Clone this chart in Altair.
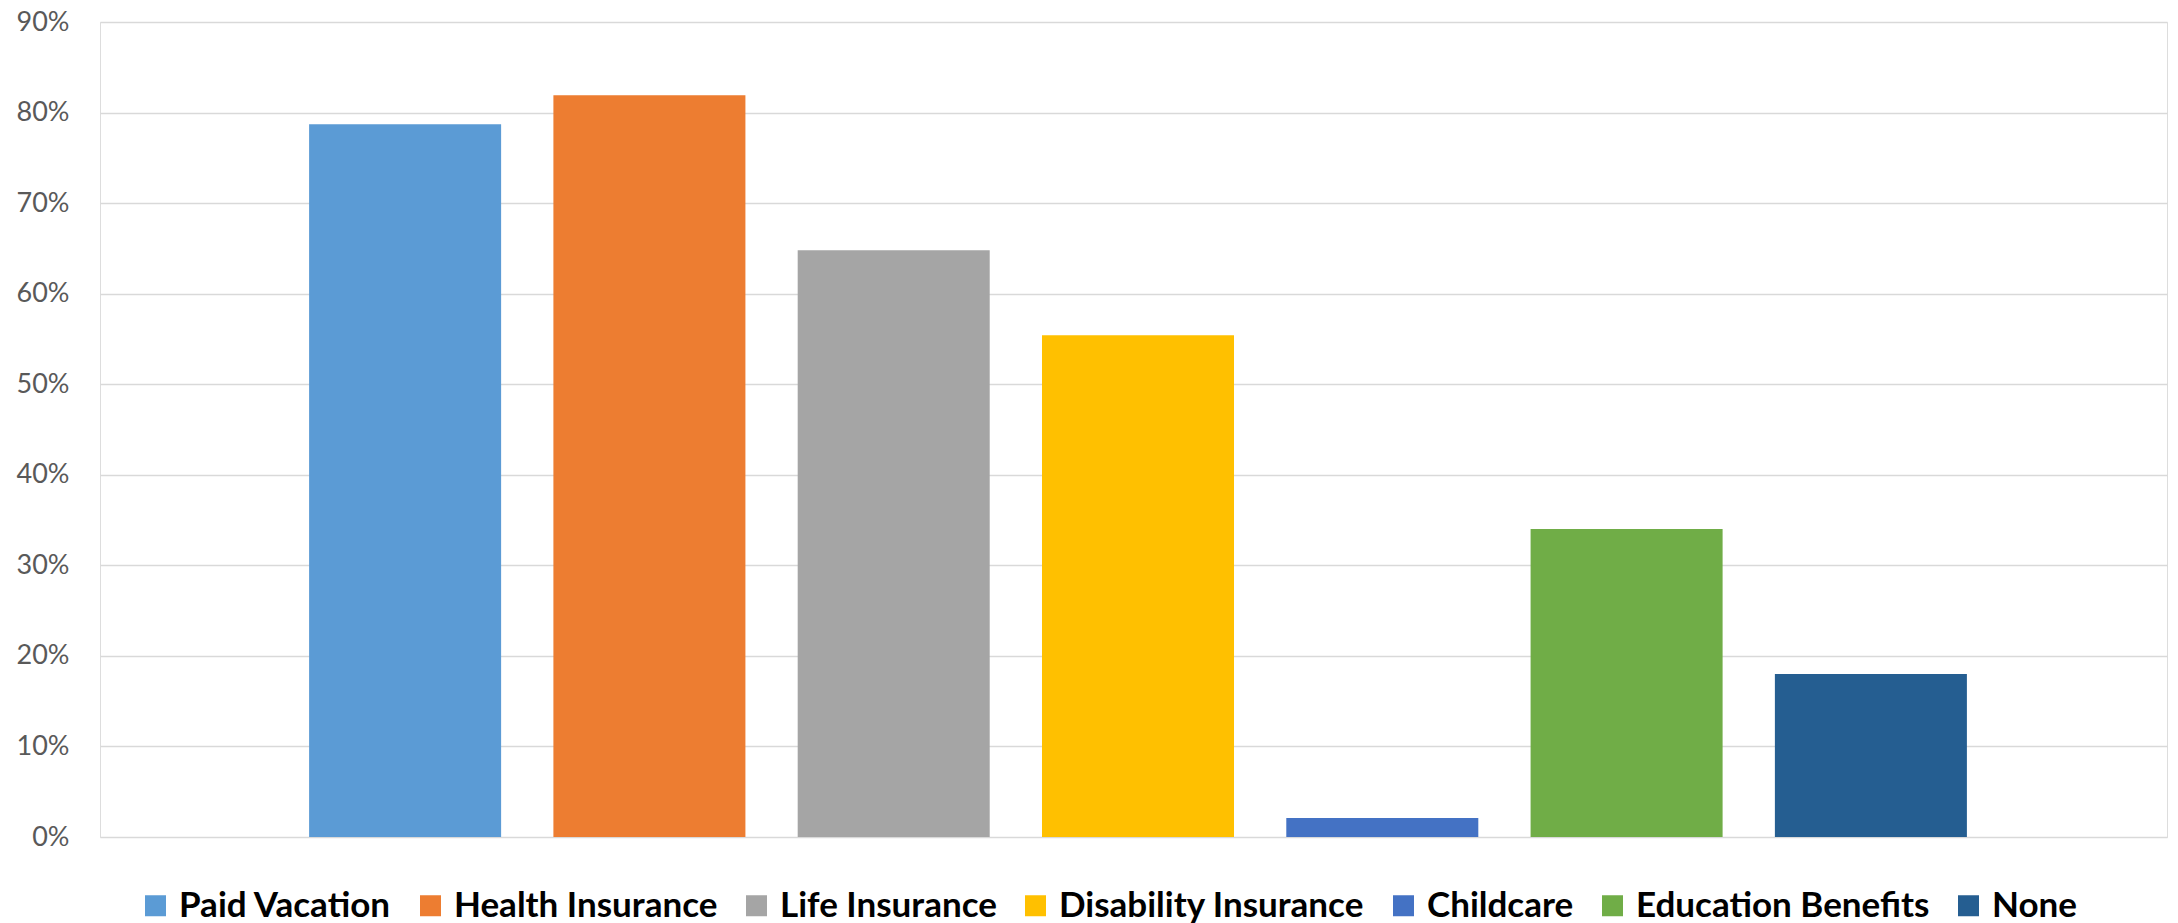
import altair as alt
import pandas as pd

# Share of respondents offered each benefit
benefits = [
    "Paid Vacation",
    "Health Insurance",
    "Life Insurance",
    "Disability Insurance",
    "Childcare",
    "Education Benefits",
    "None",
]
shares = [0.787, 0.819, 0.648, 0.554, 0.021, 0.340, 0.180]
colors = ["#5B9BD5", "#ED7D31", "#A5A5A5", "#FFC000", "#4472C4", "#70AD47", "#255E91"]
y_ticks = [0, 0.1, 0.2, 0.3, 0.4, 0.5, 0.6, 0.7, 0.8, 0.9]

df = pd.DataFrame({"benefit": benefits, "share": shares})

font = "Lato"

chart = (
    alt.Chart(df)
    .mark_bar()
    .encode(
        x=alt.X(
            "benefit:N",
            sort=benefits,
            scale=alt.Scale(paddingInner=0.214, paddingOuter=0.8375, align=0.511),
            axis=None,
        ),
        y=alt.Y(
            "share:Q",
            scale=alt.Scale(domain=[0, 0.9], nice=False),
            axis=alt.Axis(
                values=y_ticks,
                format=".0%",
                title=None,
                domain=False,
                ticks=False,
                labelPadding=31,
                labelFontSize=27,
                labelFont=font,
                labelColor="#595959",
                gridColor="#D9D9D9",
                gridWidth=1.6,
            ),
        ),
        color=alt.Color(
            "benefit:N",
            sort=benefits,
            scale=alt.Scale(domain=benefits, range=colors),
            legend=alt.Legend(
                title=None,
                orient="none",
                direction="horizontal",
                legendX=38,
                legendY=866,
                symbolType="square",
                symbolSize=441,
                symbolStrokeWidth=0,
                labelFontSize=35,
                labelFont=font,
                labelFontWeight="bold",
                labelColor="#000000",
                labelLimit=600,
                labelOffset=6,
                columnPadding=21,
            ),
        ),
    )
    .properties(
        width=2067,
        height=815,
        autosize=alt.AutoSizeParams(type="none"),
        padding={"left": 100, "top": 22, "right": 11, "bottom": 86},
    )
    .configure_view(stroke=None)
    .configure(background="#FFFFFF")
)

chart.save("out.html", embed_options={"renderer": "svg", "actions": False})
